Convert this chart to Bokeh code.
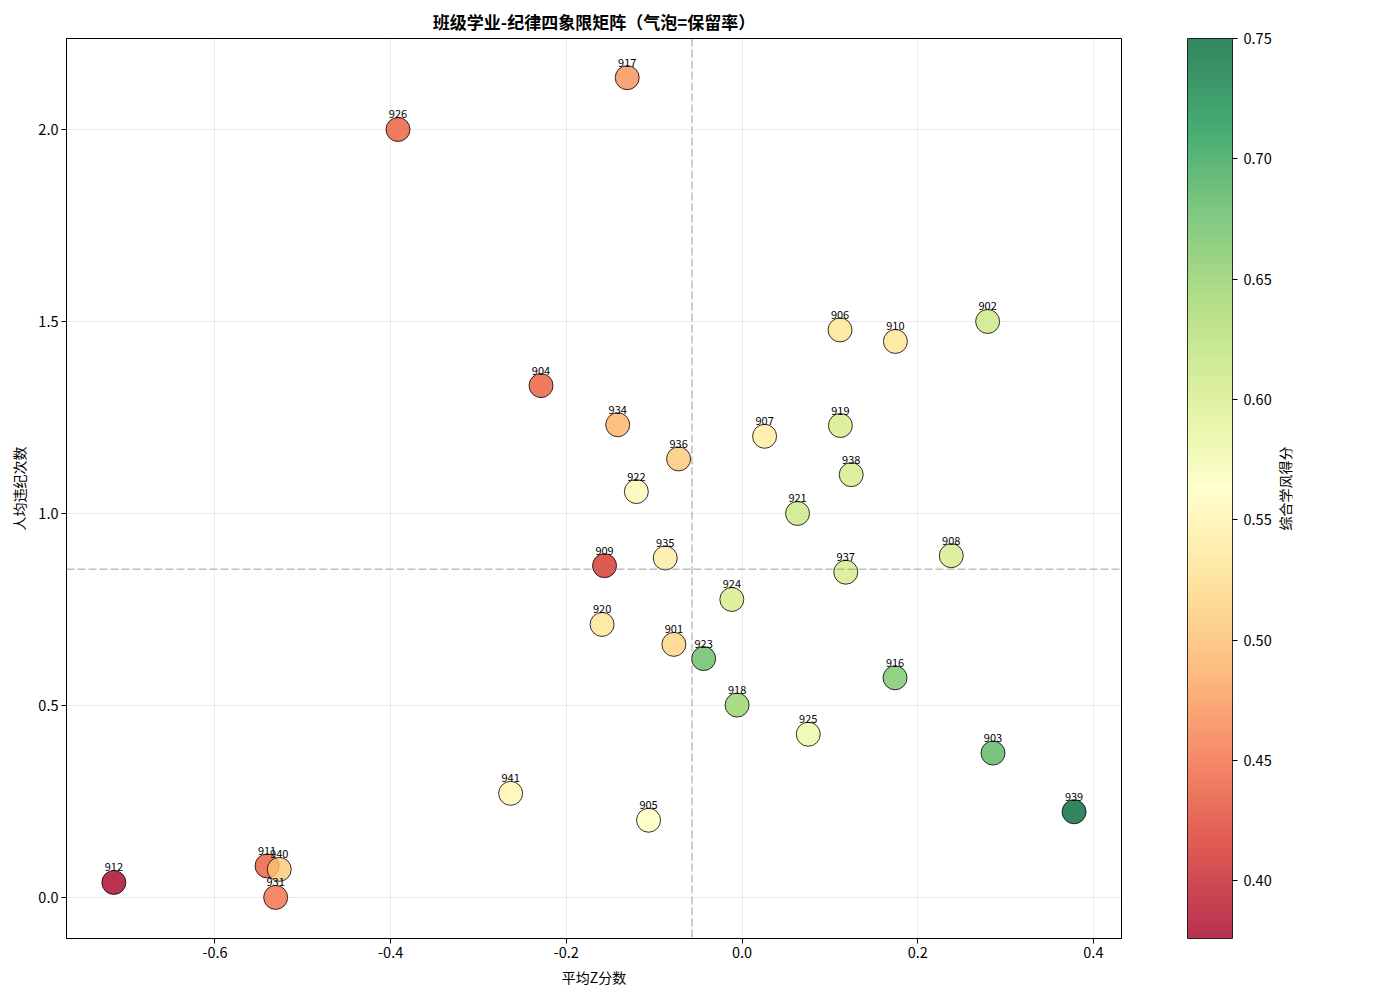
import numpy as np
from bokeh.plotting import figure
from bokeh.layouts import row
from bokeh.models import (ColumnDataSource, LinearColorMapper, ColorBar, FixedTicker,
                          PrintfTickFormatter, Span, Range1d)
from bokeh.core.properties import value
from bokeh.embed import file_html
from bokeh.resources import INLINE

# ---- data ----
classes = ["901", "902", "903", "904", "905", "906", "907", "908", "909", "910",
           "911", "912", "916", "917", "918", "919", "920", "921", "922", "923",
           "924", "925", "926", "931", "934", "935", "936", "937", "938", "939",
           "940", "941"]
avg_z = [-0.0776, 0.2796, 0.2857, -0.2288, -0.1064, 0.1116, 0.0257, 0.2382, -0.1565, 0.1746,
         -0.5407, -0.7151, 0.1742, -0.1307, -0.0056, 0.1120, -0.1593, 0.0632, -0.1203, -0.0437,
         -0.0116, 0.0754, -0.3916, -0.5309, -0.1415, -0.0874, -0.0722, 0.1181, 0.1243, 0.3780,
         -0.5268, -0.2634]
violations = [0.659, 1.500, 0.376, 1.333, 0.201, 1.478, 1.201, 0.890, 0.864, 1.448,
              0.082, 0.039, 0.572, 2.135, 0.501, 1.229, 0.711, 1.000, 1.057, 0.622,
              0.776, 0.425, 2.000, 0.000, 1.231, 0.884, 1.142, 0.847, 1.101, 0.223,
              0.073, 0.271]
scores = [0.515, 0.610, 0.680, 0.440, 0.565, 0.530, 0.540, 0.605, 0.415, 0.530,
          0.440, 0.376, 0.665, 0.470, 0.645, 0.605, 0.530, 0.610, 0.555, 0.675,
          0.605, 0.580, 0.440, 0.450, 0.490, 0.540, 0.505, 0.605, 0.605, 0.750,
          0.505, 0.550]

z_threshold = -0.057
violation_threshold = 0.855

x_ticks = [-0.6, -0.4, -0.2, 0.0, 0.2, 0.4]
y_ticks = [0.0, 0.5, 1.0, 1.5, 2.0]
cbar_ticks = [0.40, 0.45, 0.50, 0.55, 0.60, 0.65, 0.70, 0.75]
cbar_caption = "综合学风得分"

CJK = "Noto Sans CJK SC"

# ---- RdYlGn colour scale (red -> yellow -> green) ----
anchors = ["#a50026", "#d73027", "#f46d43", "#fdae61", "#fee08b", "#ffffbf",
           "#d9ef8b", "#a6d96a", "#66bd63", "#1a9850", "#006837"]
anchor_rgb = np.array([[int(h[i:i + 2], 16) for i in (1, 3, 5)] for h in anchors], dtype=float)
pos = np.linspace(0, 1, len(anchors))
t = np.linspace(0, 1, 256)
palette = []
for tt in t:
    rgb = [np.interp(tt, pos, anchor_rgb[:, k]) for k in range(3)]
    palette.append("#%02x%02x%02x" % tuple(int(round(c)) for c in rgb))

mapper = LinearColorMapper(palette=palette, low=min(scores), high=max(scores))

source = ColumnDataSource(dict(x=avg_z, y=violations, score=scores, name=classes))

p = figure(frame_width=1055, frame_height=900,
           min_border_left=66, min_border_right=155, min_border_top=38, min_border_bottom=62,
           x_range=Range1d(-0.769, 0.432), y_range=Range1d(-0.107, 2.237),
           output_backend="svg", toolbar_location=None,
           title="班级学业-纪律四象限矩阵（气泡=保留率）")

p.title.align = "center"
p.title.text_font = CJK
p.title.text_font_size = "17px"
p.title.text_font_style = "bold"
p.title.text_color = "black"

p.background_fill_color = "white"
p.border_fill_color = "white"
p.outline_line_color = "black"
p.outline_line_width = 1
p.outline_line_alpha = 1

p.grid.grid_line_color = "#b0b0b0"
p.grid.grid_line_alpha = 0.3
p.grid.grid_line_width = 0.8

p.xaxis.ticker = FixedTicker(ticks=x_ticks)
p.yaxis.ticker = FixedTicker(ticks=y_ticks)
p.xaxis.formatter = PrintfTickFormatter(format="%.1f")
p.yaxis.formatter = PrintfTickFormatter(format="%.1f")
for ax in (p.xaxis[0], p.yaxis[0]):
    ax.major_label_text_font = CJK
    ax.major_label_text_font_size = "14.5px"
    ax.major_label_text_color = "black"
    ax.axis_label_text_font = CJK
    ax.axis_label_text_font_size = "14px"
    ax.axis_label_text_font_style = "normal"
    ax.axis_label_text_color = "black"
    ax.major_tick_out = 5
    ax.major_tick_in = 0
    ax.minor_tick_line_color = None
    ax.axis_line_color = "black"
    ax.major_tick_line_color = "black"
    ax.major_label_standoff = 3
    ax.axis_label_standoff = 6
p.xaxis.axis_label = "平均Z分数"
p.yaxis.axis_label = "人均违纪次数"

# quadrant dividers
p.add_layout(Span(location=z_threshold, dimension="height", line_color="gray",
                  line_alpha=0.5, line_width=1.5, line_dash="8 3"))
p.add_layout(Span(location=violation_threshold, dimension="width", line_color="gray",
                  line_alpha=0.5, line_width=1.5, line_dash="8 3"))

# bubbles
p.scatter("x", "y", source=source, size=24,
          fill_color={"field": "score", "transform": mapper}, fill_alpha=0.8,
          line_color="black", line_alpha=0.8, line_width=1)

# class labels above each bubble
p.text("x", "y", text="name", source=source, y_offset=-15,
       text_align="center", text_baseline="middle",
       text_font=value(CJK), text_font_size="11px", text_color="black")

# colour bar
cb = ColorBar(color_mapper=mapper, ticker=FixedTicker(ticks=cbar_ticks),
              formatter=PrintfTickFormatter(format="%.2f"),
              width=45, height=900, padding=0, margin=0, location=(66, 0),
              scale_alpha=0.8, bar_line_color="black", bar_line_width=1,
              major_tick_line_color="black", major_tick_out=5, major_tick_in=0,
              minor_tick_line_color=None, label_standoff=6,
              major_label_text_font=CJK, major_label_text_font_size="14.5px",
              major_label_text_color="black",
              background_fill_alpha=0, border_line_color=None)
p.add_layout(cb, "right")

# narrow strip beside the colour bar holding its rotated caption
cap = figure(frame_width=16, frame_height=900,
             min_border_left=0, min_border_right=108, min_border_top=38, min_border_bottom=62,
             x_range=Range1d(0, 1), y_range=Range1d(0, 1),
             x_axis_location=None, y_axis_location=None,
             output_backend="svg", toolbar_location=None)
cap.grid.visible = False
cap.outline_line_color = None
cap.background_fill_color = "white"
cap.border_fill_color = "white"
cap.text(x=[0.5], y=[0.5], text=[cbar_caption], angle=np.pi / 2,
         text_align="center", text_baseline="middle",
         text_font=value(CJK), text_font_size="14px", text_color="black")

layout = row(p, cap, spacing=0)
open("out.html", "w").write(file_html(layout, INLINE))
